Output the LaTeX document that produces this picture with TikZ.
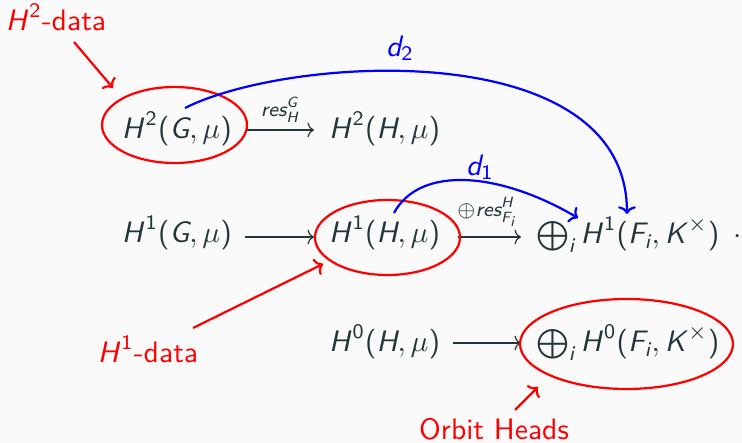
\documentclass[tikz,border=0pt]{standalone}
\usepackage{amsmath}
\renewcommand{\familydefault}{\sfdefault}
\usetikzlibrary{arrows.meta}
\definecolor{bgc}{HTML}{FAFAFA}
\definecolor{txt}{HTML}{23373B}
\definecolor{myred}{HTML}{FF0000}
\definecolor{myblue}{HTML}{0000FF}
\newcommand{\sv}[1]{\text{\sffamily\slshape #1}}
\newcommand{\svc}[1]{\text{\sffamily\slshape #1\kern0.9pt}}
\newcommand{\su}[1]{\text{\sffamily\upshape #1}}
\begin{document}
\begin{tikzpicture}[x=0.338pt,y=-0.338pt,
  every node/.style={inner sep=0pt,outer sep=0pt,text=txt,font=\sffamily},
  term/.style={anchor=base west},
  mapar/.style={draw=txt,line width=0.4pt,-{To[length=2.2pt,width=5pt]}},
  lab/.style={font=\sffamily\scriptsize},
  hl/.style={draw=myred,line width=0.75pt},
  redar/.style={draw=myred,line width=0.75pt,-{To[length=2.6pt,width=6pt]}},
  redlab/.style={text=myred,anchor=base},
  bluear/.style={draw=myblue,line width=0.75pt,-{To[length=2.6pt,width=6pt]}},
  bluelab/.style={text=myblue}]
\fill[bgc] (0,0) rectangle (742,443);
\useasboundingbox (0,0) rectangle (742,443);
% terms
\node[term] (a1) at (122,139) {$\svc{H}^{\su{2}}\su{(}\sv{G},\mu\su{)}$};
\node[term] (b1) at (329,139) {$\svc{H}^{\su{2}}\su{(}\sv{H},\mu\su{)}$};
\node[term] (a2) at (122,243) {$\svc{H}^{\su{1}}\su{(}\sv{G},\mu\su{)}$};
\node[term] (b2) at (329,243) {$\svc{H}^{\su{1}}\su{(}\sv{H},\mu\su{)}$};
\node[term] (c2) at (536,244) {$\bigoplus_{\sv{i}} \svc{H}^{\su{1}}\su{(}\sv{F}_{\sv{i}},\svc{K}^\times\su{)}$};
\node[term] (dot) at (734,244) {$\cdot$};
\node[term] (b3) at (329,352) {$\svc{H}^{\su{0}}\su{(}\sv{H},\mu\su{)}$};
\node[term] (c3) at (536,352) {$\bigoplus_{\sv{i}} \svc{H}^{\su{0}}\su{(}\sv{F}_{\sv{i}},\svc{K}^\times\su{)}$};
% maps
\coordinate (m1s) at (247,130); \coordinate (m1e) at (314,130);
\draw[mapar] (m1s) -- (m1e);
\node[lab] (rg) at (280,110) {$\sv{res}^{\sv{G}}_{\sv{H}}$};
\coordinate (m2s) at (245,237); \coordinate (m2e) at (314,237);
\draw[mapar] (m2s) -- (m2e);
\coordinate (m3s) at (458,237); \coordinate (m3e) at (521,237);
\draw[mapar] (m3s) -- (m3e);
\node[lab] (rl) at (487,212) {$\oplus\sv{res}^{\sv{H}}_{\sv{F}_{\sv{i}}}$};
\coordinate (m4s) at (453,343); \coordinate (m4e) at (521,343);
\draw[mapar] (m4s) -- (m4e);
% highlight ellipses
\draw[hl] (174.5,125) ellipse [x radius=72.5, y radius=38];
\draw[hl] (387.5,237.5) ellipse [x radius=72.5, y radius=37.5];
\draw[hl] (626.5,344) ellipse [x radius=106.5, y radius=45];
% red labels
\node[redlab] (l2) at (56,31) {$\svc{H}^{\su{2}}$-data};
\coordinate (l2s) at (74,42); \coordinate (l2e) at (113,88);
\draw[redar] (l2s) -- (l2e);
\node[redlab] (l1) at (148,363) {$\svc{H}^{\su{1}}$-data};
\coordinate (l1s) at (193,328); \coordinate (l1e) at (323,264);
\draw[redar] (l1s) -- (l1e);
\node[redlab] (lo) at (494,440) {Orbit Heads};
\coordinate (los) at (515,410); \coordinate (loe) at (538,387);
\draw[redar] (los) -- (loe);
% differentials
\coordinate (d2s) at (185,108); \coordinate (d2e) at (627,214);
\draw[bluear] (d2s) .. controls (290,55) and (627,35) .. (d2e);
\node[bluelab] (d2l) at (400,48) {$\sv{d}_{\su{2}}$};
\coordinate (d1s) at (394,213); \coordinate (d1e) at (578,218);
\draw[bluear] (d1s) .. controls (420,165) and (500,172) .. (d1e);
\node[bluelab] (d1l) at (480,167) {$\sv{d}_{\su{1}}$};
\end{tikzpicture}
\end{document}
